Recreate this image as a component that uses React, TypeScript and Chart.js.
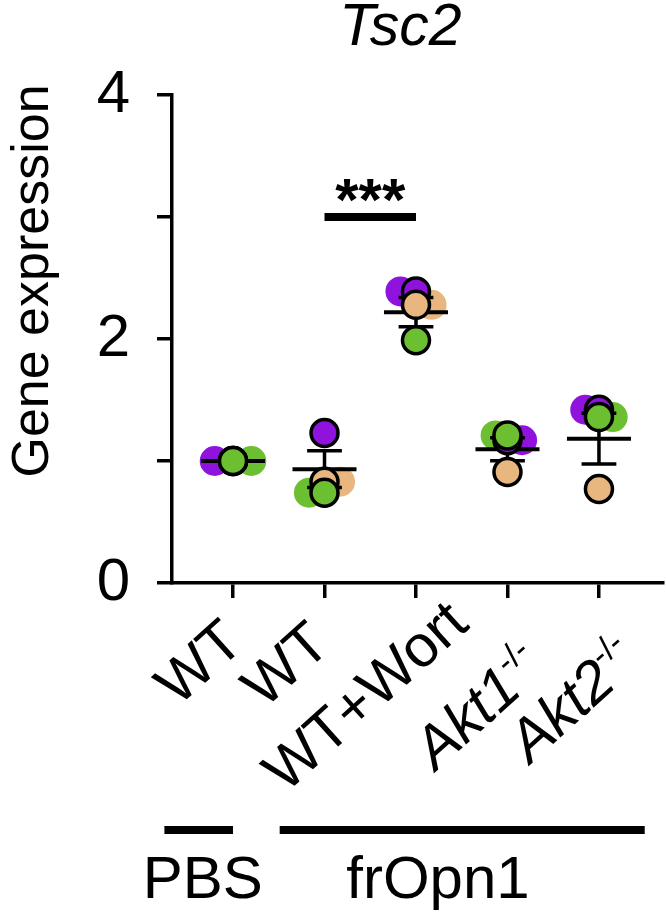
import React, { useEffect, useRef } from "react";
import { Chart, registerables } from "chart.js";

Chart.register(...registerables);

// ---- data ----
const groupLabels = ["WT", "WT", "WT+Wort", "Akt1", "Akt2"];
const groupSuperscripts = ["", "", "", "-/-", "-/-"];
const groupItalic = [false, false, false, true, true];

// replicate values (purple, tan, green mouse) per group
const purpleValues = [1.0, 1.23, 2.39, 1.17, 1.42];
const tanValues = [1.0, 0.83, 2.28, 0.91, 0.77];
const greenValues = [1.0, 0.74, 1.99, 1.21, 1.36];

// jittered, un-outlined copies (shift in category units; null = none)
const purpleShadowShift = [-0.2, null, -0.17, 0.16, -0.15];
const tanShadowShift = [null, 0.17, 0.17, null, null];
const greenShadowShift = [0.2, -0.17, null, -0.13, 0.15];

const yTickValues = [0, 1, 2, 3, 4];
const yTickLabels = ["0", "", "2", "", "4"];

const treatmentLabels = ["PBS", "frOpn1"];
const treatmentSpans = [
  [-0.75, 0],
  [0.51, 4.5],
];
const treatmentLabelCenters = [-0.33, 2.24];

const sigGroups = [1, 2];
const sigLevel = 3.0;
const sigText = "***";

const chartTitle = "Tsc2";
const yAxisTitle = "Gene expression";

// ---- styles ----
const PURPLE = "#9013DD";
const TAN = "#E8B67F";
const GREEN = "#6CBF30";
const FONT = "'Liberation Sans', Arial, Helvetica, sans-serif";
// per-label end-of-baseline anchor: [dx from tick (px), y (px)]
const labelAnchors = [
  [13, 646],
  [8, 648],
  [55, 627],
  [40, 671],
  [43, 664],
];
const LABEL_ANGLE = (42 * Math.PI) / 180;

function stats(i: number) {
  const v = [purpleValues[i], tanValues[i], greenValues[i]];
  const m = v.reduce((a, b) => a + b, 0) / v.length;
  const sd = Math.sqrt(v.reduce((a, b) => a + (b - m) * (b - m), 0) / (v.length - 1));
  return { mean: m, sem: sd / Math.sqrt(v.length) };
}

function shadowData(vals: number[], shifts: (number | null)[]) {
  const out: { x: number; y: number }[] = [];
  vals.forEach((v, i) => {
    const s = shifts[i];
    if (s !== null) out.push({ x: i + s, y: v });
  });
  return out;
}

function centerData(vals: number[]) {
  return vals.map((v, i) => ({ x: i, y: v }));
}

const annotationPlugin = {
  id: "annot",
  beforeDatasetDraw(chart: any, args: any) {
    if (args.index !== 3) return;
    const ctx = chart.ctx;
    const xs = chart.scales.x;
    const ys = chart.scales.y;
    ctx.save();
    ctx.strokeStyle = "#000";
    ctx.lineCap = "butt";
    groupLabels.forEach((_, i) => {
      const { mean, sem } = stats(i);
      const cx = xs.getPixelForValue(i);
      const ym = ys.getPixelForValue(mean);
      ctx.lineWidth = 4;
      ctx.beginPath();
      ctx.moveTo(xs.getPixelForValue(i - 0.35), ym);
      ctx.lineTo(xs.getPixelForValue(i + 0.35), ym);
      ctx.stroke();
      if (sem > 0.01) {
        const yt = ys.getPixelForValue(mean + sem);
        const yb = ys.getPixelForValue(mean - sem);
        ctx.lineWidth = 3.5;
        ctx.beginPath();
        ctx.moveTo(cx, yt);
        ctx.lineTo(cx, yb);
        ctx.moveTo(xs.getPixelForValue(i - 0.19), yt);
        ctx.lineTo(xs.getPixelForValue(i + 0.19), yt);
        ctx.moveTo(xs.getPixelForValue(i - 0.19), yb);
        ctx.lineTo(xs.getPixelForValue(i + 0.19), yb);
        ctx.stroke();
      }
    });
    ctx.restore();
  },
  afterDraw(chart: any) {
    const ctx = chart.ctx;
    const xs = chart.scales.x;
    const ys = chart.scales.y;
    ctx.save();
    ctx.fillStyle = "#000";
    ctx.strokeStyle = "#000";

    // title
    ctx.font = `italic 59px ${FONT}`;
    ctx.textAlign = "center";
    ctx.textBaseline = "alphabetic";
    ctx.fillText(chartTitle, xs.getPixelForValue(1.83), 45);

    // y-axis title
    ctx.save();
    ctx.translate(48, 281);
    ctx.rotate(-Math.PI / 2);
    ctx.font = `52px ${FONT}`;
    ctx.textAlign = "center";
    ctx.textBaseline = "alphabetic";
    ctx.fillText(yAxisTitle, 0, 0);
    ctx.restore();

    // x category labels (rotated)
    groupLabels.forEach((lab, i) => {
      const px = xs.getPixelForValue(i);
      const mainFont = `${groupItalic[i] ? "italic " : ""}59px ${FONT}`;
      const supFont = `34px ${FONT}`;
      ctx.font = mainFont;
      const wMain = ctx.measureText(lab).width;
      ctx.font = supFont;
      const sup = groupSuperscripts[i];
      const wSup = sup ? ctx.measureText(sup).width : 0;
      const total = wMain + wSup;
      ctx.save();
      ctx.translate(px + labelAnchors[i][0], labelAnchors[i][1]);
      ctx.rotate(-LABEL_ANGLE);
      ctx.textAlign = "left";
      ctx.textBaseline = "alphabetic";
      ctx.font = mainFont;
      ctx.fillText(lab, -total, 0);
      if (sup) {
        ctx.font = supFont;
        ctx.fillText(sup, -wSup, -24);
      }
      ctx.restore();
    });

    // treatment bars and labels
    treatmentLabels.forEach((lab, k) => {
      const [a, b] = treatmentSpans[k];
      ctx.fillRect(xs.getPixelForValue(a), 826, xs.getPixelForValue(b) - xs.getPixelForValue(a), 8);
      ctx.font = `60px ${FONT}`;
      ctx.textAlign = "center";
      ctx.textBaseline = "alphabetic";
      ctx.fillText(lab, xs.getPixelForValue(treatmentLabelCenters[k]), 898);
    });

    // significance
    const sx1 = xs.getPixelForValue(sigGroups[0]);
    const sx2 = xs.getPixelForValue(sigGroups[1]);
    const sy = ys.getPixelForValue(sigLevel);
    ctx.fillRect(sx1, sy - 4, sx2 - sx1, 8);
    ctx.font = `bold 60px ${FONT}`;
    ctx.textAlign = "center";
    ctx.textBaseline = "alphabetic";
    ctx.fillText(sigText, (sx1 + sx2) / 2, sy + 3);

    ctx.restore();
  },
};

export default function App() {
  const ref = useRef<HTMLCanvasElement | null>(null);
  useEffect(() => {
    if (!ref.current) return;
    const shadowStyle = (c: string) => ({
      backgroundColor: c,
      borderWidth: 0,
      pointRadius: 15,
      pointHoverRadius: 15,
      order: 10,
    });
    const ringStyle = (c: string, order: number) => ({
      backgroundColor: c,
      borderColor: "#000",
      borderWidth: 3.5,
      pointRadius: 13.5,
      pointHoverRadius: 13.5,
      order,
    });
    const chart = new Chart(ref.current, {
      type: "scatter",
      data: {
        datasets: [
          { label: "p-shadow", data: shadowData(purpleValues, purpleShadowShift), ...shadowStyle(PURPLE) },
          { label: "t-shadow", data: shadowData(tanValues, tanShadowShift), ...shadowStyle(TAN) },
          { label: "g-shadow", data: shadowData(greenValues, greenShadowShift), ...shadowStyle(GREEN) },
          { label: "purple", data: centerData(purpleValues), ...ringStyle(PURPLE, 3) },
          { label: "tan", data: centerData(tanValues), ...ringStyle(TAN, 2) },
          { label: "green", data: centerData(greenValues), ...ringStyle(GREEN, 1) },
        ],
      },
      options: {
        animation: false,
        responsive: true,
        maintainAspectRatio: false,
        layout: { autoPadding: false, padding: { top: 95, right: 3, left: 0, bottom: 0 } },
        plugins: { legend: { display: false }, tooltip: { enabled: false }, title: { display: false } },
        scales: {
          x: {
            type: "linear",
            min: -0.667,
            max: 4.7,
            afterBuildTicks: (s: any) => {
              s.ticks = groupLabels.map((_, i) => ({ value: i }));
            },
            afterFit: (s: any) => {
              s.height = 331;
            },
            ticks: { display: false },
            grid: { display: true, drawOnChartArea: false, drawTicks: true, tickLength: 15, lineWidth: 3.5, color: "#000" },
            border: { display: true, width: 3.5, color: "#000" },
          },
          y: {
            type: "linear",
            min: 0,
            max: 4,
            afterBuildTicks: (s: any) => {
              s.ticks = yTickValues.map((v) => ({ value: v }));
            },
            afterFit: (s: any) => {
              s.width = 172;
            },
            ticks: {
              padding: 27,
              color: "#000",
              font: { family: FONT, size: 60 },
              callback: (v: any) => {
                const idx = yTickValues.indexOf(Number(v));
                return idx >= 0 ? yTickLabels[idx] : "";
              },
            },
            grid: { display: true, drawOnChartArea: false, drawTicks: true, tickLength: 15, lineWidth: 3.5, color: "#000" },
            border: { display: true, width: 3.5, color: "#000" },
          },
        },
      },
      plugins: [annotationPlugin],
    });
    return () => chart.destroy();
  }, []);
  return (
    <div style={{ position: "fixed", left: 0, top: 0, width: 666, height: 914, background: "#fff" }}>
      <canvas ref={ref} />
    </div>
  );
}
